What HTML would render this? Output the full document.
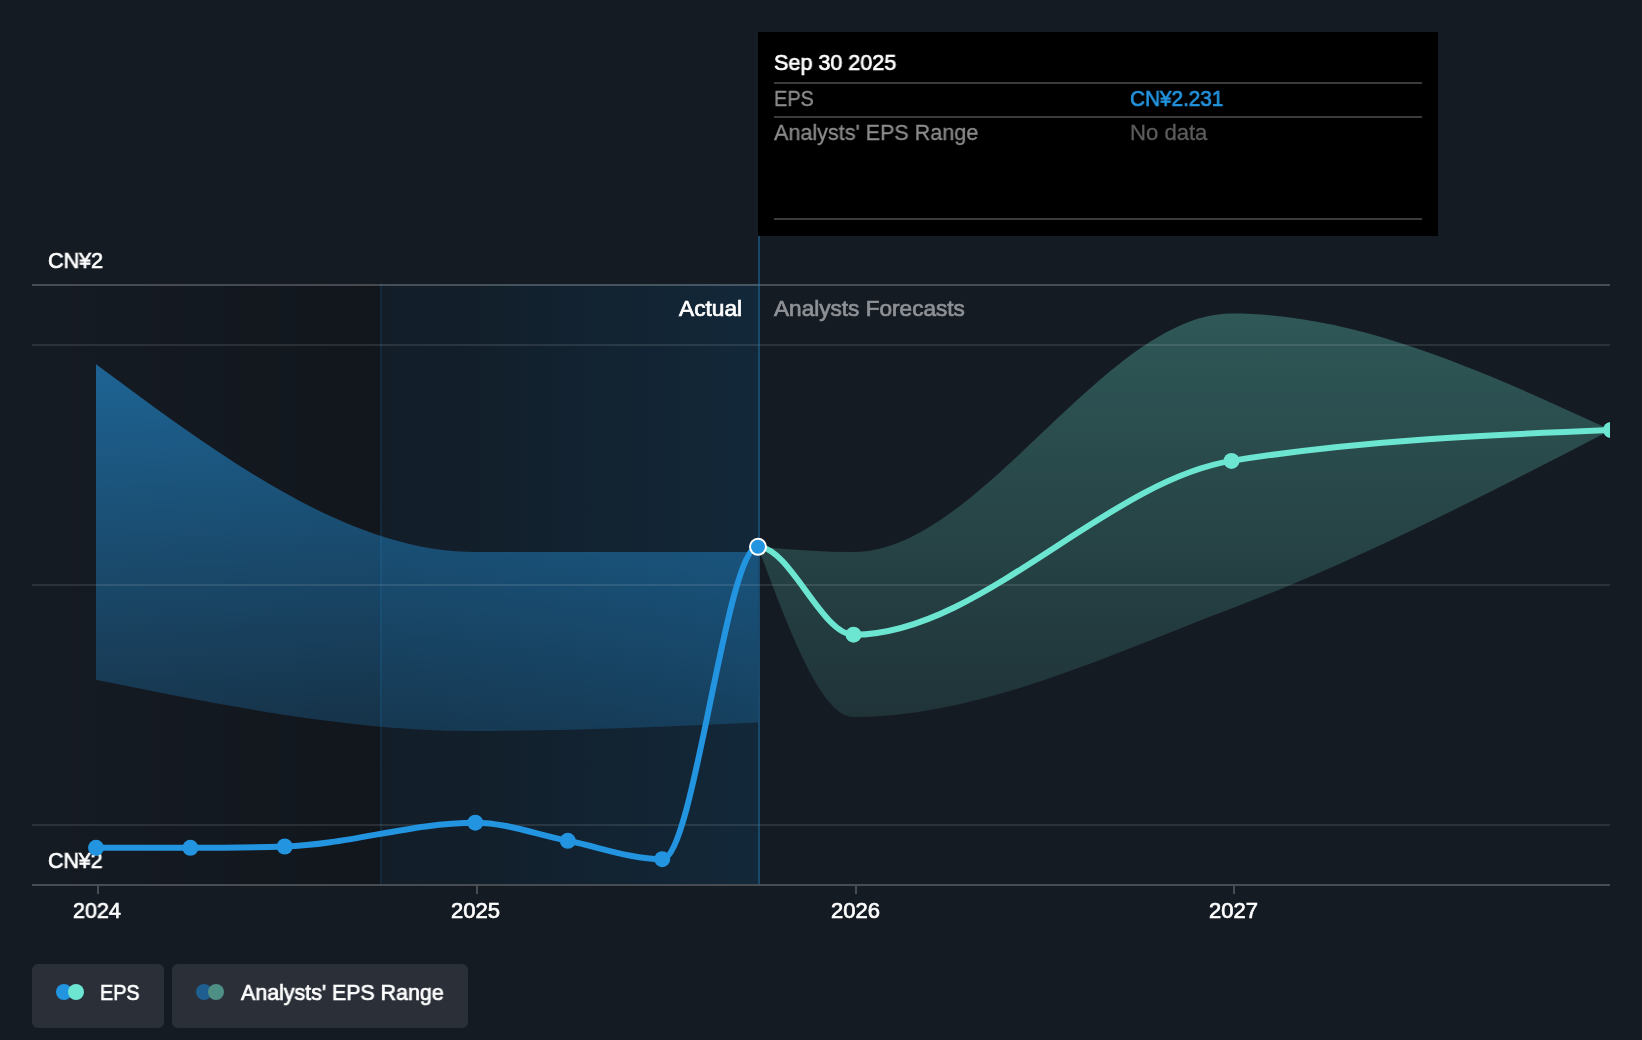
<!DOCTYPE html>
<html><head><meta charset="utf-8">
<style>
html,body{margin:0;padding:0;}
body{width:1642px;height:1040px;background:#151b23;overflow:hidden;position:relative;font-family:"Liberation Sans",sans-serif;}
svg{position:absolute;left:0;top:0;}
.t{position:absolute;white-space:nowrap;line-height:1;font-size:22px;transform-origin:0 0;will-change:transform;}
.tip{position:absolute;left:758px;top:32px;width:680px;height:204px;background:#000;}
.hl{position:absolute;left:774px;height:2px;width:648px;background:#3b3b3b;}
.lg{position:absolute;top:964px;height:64px;background:#2a2f38;border-radius:6px;}
.dot{position:absolute;width:16px;height:16px;border-radius:50%;top:984px;}
</style></head>
<body>
<svg width="1642" height="1040" viewBox="0 0 1642 1040">
<defs>
<linearGradient id="gDark" x1="0" y1="0" x2="1" y2="0">
<stop offset="0" stop-color="#000" stop-opacity="0"/>
<stop offset="1" stop-color="#000" stop-opacity="0.17"/>
</linearGradient>
<linearGradient id="gHl" x1="0" y1="0" x2="1" y2="0">
<stop offset="0" stop-color="#052a42" stop-opacity="0.17"/>
<stop offset="1" stop-color="#0c466e" stop-opacity="0.30"/>
</linearGradient>
<linearGradient id="gRp" x1="0" y1="0" x2="0" y2="1">
<stop offset="0" stop-color="#2394df" stop-opacity="0.6"/>
<stop offset="1" stop-color="#2394df" stop-opacity="0.22"/>
</linearGradient>
<linearGradient id="gRf" x1="0" y1="0" x2="0" y2="1">
<stop offset="0" stop-color="#6ce5d1" stop-opacity="0.3"/>
<stop offset="1" stop-color="#6ce5d1" stop-opacity="0.12"/>
</linearGradient>
<clipPath id="cp"><rect x="32" y="0" width="1578" height="1040"/></clipPath>
</defs>
<!-- overlays -->
<rect x="32" y="284" width="348" height="600" fill="url(#gDark)"/>
<rect x="380" y="284" width="378" height="600" fill="url(#gHl)"/>
<rect x="380" y="284" width="2" height="600" fill="#2394df" fill-opacity="0.1"/>
<!-- ranges -->
<path fill="url(#gRp)" d="M96.00,364.30C222.43,458.15,348.87,552.00,475.30,552.00C569.53,552.00,663.77,552.00,758.00,552.00L758.00,722.40C663.77,726.70,569.53,731.00,475.30,731.00C348.87,731.00,222.43,705.40,96.00,679.80Z"/>
<g clip-path="url(#cp)">
<path fill="url(#gRf)" d="M758.00,546.80C789.83,549.40,821.67,552.00,853.50,552.00C979.50,552.00,1105.50,313.50,1231.50,313.50C1358.00,313.50,1484.50,371.75,1611.00,430.00L1611.00,430.00C1484.50,495.31,1358.00,560.62,1231.50,608.50C1105.50,656.19,979.50,717.00,853.50,717.00C821.67,717.00,789.83,631.90,758.00,546.80Z"/>
</g>
<!-- grid -->
<g fill="#ffffff">
<rect x="32" y="284" width="1578" height="2" fill-opacity="0.22"/>
<rect x="32" y="344" width="1578" height="2" fill-opacity="0.1"/>
<rect x="32" y="584" width="1578" height="2" fill-opacity="0.1"/>
<rect x="32" y="824" width="1578" height="2" fill-opacity="0.1"/>
<rect x="32" y="884" width="1578" height="2" fill-opacity="0.22"/>
<rect x="97" y="886" width="2" height="8" fill-opacity="0.22"/>
<rect x="476" y="886" width="2" height="8" fill-opacity="0.22"/>
<rect x="855" y="886" width="2" height="8" fill-opacity="0.22"/>
<rect x="1233" y="886" width="2" height="8" fill-opacity="0.22"/>
</g>
<!-- cursor line -->
<rect x="758" y="236" width="2" height="648" fill="#2394df" fill-opacity="0.38"/>
</svg>

<div class="tip"></div>
<div class="hl" style="top:82px;"></div>
<div class="hl" style="top:116px;"></div>
<div class="hl" style="top:218px;"></div>
<div class="lg" style="left:32px;width:132px;"></div>
<div class="dot" style="left:56px;background:#2394df;"></div>
<div class="dot" style="left:68px;background:#6ce5d1;"></div>
<div class="lg" style="left:172px;width:296px;"></div>
<div class="dot" style="left:196px;background:#1f5f8f;"></div>
<div class="dot" style="left:208px;background:#4e8f86;"></div>
<div class="t" style="left:774.00px;top:52.00px;color:#ffffff;-webkit-text-stroke:0.7px #ffffff;transform:scaleX(0.9804)">Sep 30 2025</div>
<div class="t" style="left:773.66px;top:88.00px;color:#8c8c8c;-webkit-text-stroke:0.3px #8c8c8c;transform:scaleX(0.9071)">EPS</div>
<div class="t" style="left:1130.29px;top:88.00px;color:#2394df;-webkit-text-stroke:0.7px #2394df;transform:scaleX(0.9430)">CN¥2.231</div>
<div class="t" style="left:773.90px;top:122.00px;color:#8c8c8c;-webkit-text-stroke:0.3px #8c8c8c;transform:scaleX(0.9799)">Analysts' EPS Range</div>
<div class="t" style="left:1129.51px;top:122.00px;color:#5c5c5c;-webkit-text-stroke:0.3px #5c5c5c;transform:scaleX(1.0045)">No data</div>
<div class="t" style="left:47.56px;top:250.00px;color:#ffffff;-webkit-text-stroke:0.7px #ffffff;transform:scaleX(0.9790)">CN¥2</div>
<div class="t" style="left:678.53px;top:298.00px;color:#ffffff;-webkit-text-stroke:0.7px #ffffff;transform:scaleX(1.0321)">Actual</div>
<div class="t" style="left:774.33px;top:298.00px;color:#8e9195;-webkit-text-stroke:0.7px #8e9195;transform:scaleX(1.0273)">Analysts Forecasts</div>
<div class="t" style="left:47.87px;top:850.00px;color:#ffffff;-webkit-text-stroke:0.7px #ffffff;transform:scaleX(0.9699)">CN¥2</div>
<div class="t" style="left:73.01px;top:900.00px;color:#ffffff;-webkit-text-stroke:0.7px #ffffff;transform:scaleX(0.9763)">2024</div>
<div class="t" style="left:451.30px;top:900.00px;color:#ffffff;-webkit-text-stroke:0.7px #ffffff;transform:scaleX(1.0019)">2025</div>
<div class="t" style="left:831.00px;top:900.00px;color:#ffffff;-webkit-text-stroke:0.7px #ffffff;transform:scaleX(0.9924)">2026</div>
<div class="t" style="left:1209.00px;top:900.00px;color:#ffffff;-webkit-text-stroke:0.7px #ffffff;transform:scaleX(0.9921)">2027</div>
<div class="t" style="left:99.52px;top:982.00px;color:#ffffff;-webkit-text-stroke:0.7px #ffffff;transform:scaleX(0.9004)">EPS</div>
<div class="t" style="left:240.92px;top:982.00px;color:#ffffff;-webkit-text-stroke:0.7px #ffffff;transform:scaleX(0.9723)">Analysts' EPS Range</div>
<svg width="1642" height="1040" viewBox="0 0 1642 1040">
<defs><clipPath id="cp2"><rect x="32" y="0" width="1578" height="1040"/></clipPath></defs>
<!-- lines -->
<g clip-path="url(#cp2)">
<path fill="none" stroke="#2394df" stroke-width="6" d="M96.00,847.80C127.47,847.80,158.93,847.80,190.40,847.80C221.83,847.80,253.27,847.37,284.70,846.50C348.23,844.75,411.77,822.70,475.30,822.70C506.13,822.70,536.97,834.78,567.80,840.80C599.27,846.95,630.73,859.20,662.20,859.20C694.13,859.20,726.07,546.80,758.00,546.80"/>
<path fill="none" stroke="#6ce5d1" stroke-width="6" d="M758.00,546.80C789.83,546.80,821.67,634.70,853.50,634.70C979.50,634.70,1105.50,481.42,1231.50,460.90C1358.00,440.30,1484.50,435.15,1611.00,430.00"/>
<g fill="#2394df">
<circle cx="96" cy="847.8" r="8"/><circle cx="190.4" cy="847.8" r="8"/><circle cx="284.7" cy="846.5" r="8"/>
<circle cx="475.3" cy="822.7" r="8"/><circle cx="567.8" cy="840.8" r="8"/><circle cx="662.2" cy="859.2" r="8"/>
</g>
<g fill="#6ce5d1">
<circle cx="853.5" cy="634.7" r="8"/><circle cx="1231.5" cy="460.9" r="8"/><circle cx="1611" cy="430" r="8"/>
</g>
<circle cx="758" cy="546.8" r="8" fill="#2394df" stroke="#fff" stroke-width="2"/>
</g>
</svg>

</body></html>
